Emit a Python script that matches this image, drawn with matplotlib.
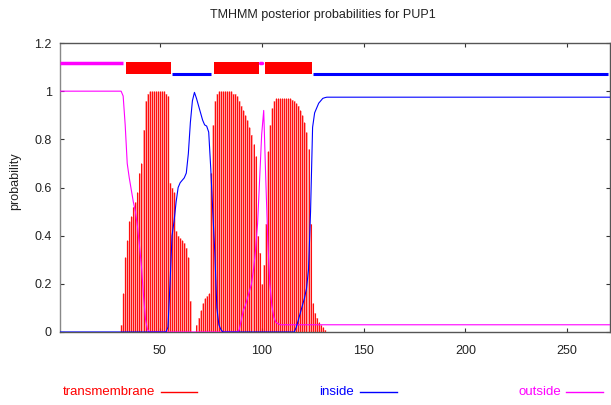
import matplotlib
matplotlib.use("Agg")
import matplotlib.pyplot as plt
from matplotlib.lines import Line2D
import numpy as np

plt.rcParams['font.family'] = ['Liberation Sans', 'DejaVu Sans']

# ---------------- data ----------------
seq_len = 271
residues = list(range(1, seq_len + 1))

# predicted topology segments (label, start, end)
segments = [
    ("outside", 1, 33),
    ("TMhelix", 34, 55),
    ("inside", 56, 76),
    ("TMhelix", 77, 98),
    ("outside", 99, 101),
    ("TMhelix", 102, 124),
    ("inside", 125, 271),
]

# posterior probability of transmembrane per residue
tm_prob = ([0.0] * 30 + [
    0.03, 0.16, 0.31, 0.38, 0.46, 0.48, 0.52, 0.54, 0.58, 0.66,   # 31-40
    0.70, 0.84, 0.96, 0.99, 1.00, 1.00, 1.00, 1.00, 1.00, 1.00,   # 41-50
    1.00, 1.00, 0.99, 0.98, 0.62, 0.60, 0.58, 0.42, 0.40, 0.39,   # 51-60
    0.38, 0.37, 0.35, 0.31, 0.13, 0.00, 0.00, 0.03, 0.06, 0.09,   # 61-70
    0.12, 0.14, 0.15, 0.16, 0.66, 0.86, 0.96, 0.99, 1.00, 1.00,   # 71-80
    1.00, 1.00, 1.00, 1.00, 1.00, 0.99, 0.99, 0.98, 0.96, 0.94,   # 81-90
    0.92, 0.90, 0.88, 0.85, 0.82, 0.78, 0.73, 0.40, 0.33, 0.20,   # 91-100
    0.28, 0.45, 0.75, 0.86, 0.93, 0.96, 0.97, 0.97, 0.97, 0.97,   # 101-110
    0.97, 0.97, 0.97, 0.97, 0.965, 0.96, 0.95, 0.94, 0.92, 0.90,  # 111-120
    0.87, 0.83, 0.76, 0.45, 0.12, 0.08, 0.06, 0.04, 0.03, 0.02,   # 121-130
    0.01,                                                         # 131
] + [0.0] * 140)

# posterior probability of inside per residue
inside_prob = ([0.0] * 53 + [
    0.02, 0.20, 0.40, 0.46, 0.54, 0.60, 0.62, 0.63, 0.64, 0.66,   # 54-63
    0.74, 0.87, 0.96, 0.995, 0.97, 0.94, 0.91, 0.88, 0.86, 0.855, # 64-73
    0.83, 0.68, 0.50, 0.33, 0.10, 0.03, 0.01,                     # 74-80
] + [0.0] * 36 + [
    0.02, 0.05, 0.08, 0.11, 0.14, 0.18, 0.26, 0.50, 0.85, 0.91,   # 117-126
    0.93, 0.95, 0.96, 0.97, 0.973,                                # 127-131
] + [0.975] * 140)

# posterior probability of outside per residue
outside_prob = ([1.0] * 31 + [
    0.98, 0.86, 0.70, 0.64, 0.59, 0.54, 0.50, 0.44, 0.36, 0.27,   # 32-41
    0.15, 0.05, 0.01,                                             # 42-44
] + [0.0] * 44 + [
    0.01, 0.05, 0.09, 0.11, 0.14, 0.17, 0.20, 0.26, 0.34, 0.45,   # 89-98
    0.64, 0.82, 0.92, 0.64, 0.38, 0.20, 0.11, 0.06, 0.04, 0.035,  # 99-108
] + [0.03] * 163)

title = "TMHMM posterior probabilities for PUP1"
ylabel = "probability"
x_ticks = [50, 100, 150, 200, 250]
y_ticks = [0, 0.2, 0.4, 0.6, 0.8, 1.0, 1.2]
y_ticklabels = ["0", "0.2", "0.4", "0.6", "0.8", "1", "1.2"]
legend_labels = ["transmembrane", "inside", "outside"]

# ---------------- style ----------------
C_TM = "#ff0000"
C_TM_LIGHT = "#ffa0a0"
C_IN = "#0000ff"
C_OUT = "#ff00ff"

W, H = 611, 405
fig = plt.figure(figsize=(W / 100, H / 100), dpi=100)
ax = fig.add_axes([60 / W, 1 - 332 / H, 550 / W, 289 / H])

x = np.array(residues)
tm = np.array(tm_prob)
ax.fill_between(x, 0, tm, step='mid', color=C_TM_LIGHT, linewidth=0, zorder=1)
ax.vlines(x, 0, tm, colors=C_TM, linewidth=0.65, zorder=2)
ax.plot(x, outside_prob, color=C_OUT, lw=0.8, zorder=3)
ax.plot(x, inside_prob, color=C_IN, lw=0.8, zorder=4)

# topology bar on top
for lab, s, e in segments:
    if lab == "TMhelix":
        ax.fill_between([s - 0.5, e + 0.5], 1.071, 1.12, color=C_TM,
                        linewidth=0, zorder=3)
    elif lab == "inside":
        ax.plot([s, e - 1], [1.073, 1.073], color=C_IN, lw=2.2,
                solid_capstyle='butt', zorder=3)
    else:
        ax.plot([s, e - 1], [1.116, 1.116], color=C_OUT, lw=2.5,
                solid_capstyle='butt' if e - s > 3 else 'round', zorder=3)

ax.set_xlim(1, seq_len)
ax.set_ylim(0, 1.2)
ax.set_xticks(x_ticks)
ax.set_xticklabels([str(t) for t in x_ticks])
ax.set_yticks(y_ticks)
ax.set_yticklabels(y_ticklabels)
ax.tick_params(direction='in', length=3, width=0.8, labelsize=9,
               top=True, right=True, colors='#333333', labelcolor='#222222')
ax.tick_params(axis='y', pad=6)
ax.tick_params(axis='x', pad=9)
for sp in ax.spines.values():
    sp.set_color('#555555')
    sp.set_linewidth(1.0)
ax.spines['left'].set_color('#888888')

fig.text(323 / W, 1 - 15 / H, title, ha='center', va='center', fontsize=9,
         color='#222222')
fig.text(15 / W, 1 - 181 / H, ylabel, ha='center', va='center', fontsize=9,
         rotation=90, color='#222222')

# legend below plot
leg_y = 1 - 392 / H
leg_entries = [(155, 161, 197, C_TM), (354, 360, 397, C_IN), (561, 566, 603, C_OUT)]
for lab, (tx, x0, x1, c) in zip(legend_labels, leg_entries):
    fig.text(tx / W, leg_y, lab, ha='right', va='center', fontsize=9.5, color=c)
    fig.add_artist(Line2D([x0 / W, x1 / W], [leg_y, leg_y], color=c, lw=1.0,
                          transform=fig.transFigure))

fig.savefig("out.png", dpi=100)
